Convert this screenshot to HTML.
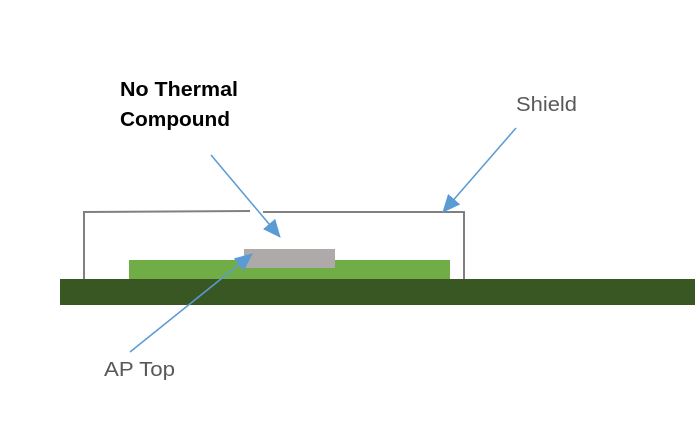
<!DOCTYPE html>
<html><head><style>
body{margin:0;width:695px;height:432px;background:#fff;overflow:hidden;font-family:"Liberation Sans",sans-serif;}
</style></head><body>
<svg width="695" height="432" xmlns="http://www.w3.org/2000/svg">
<defs>
<marker id="b" markerWidth="18" markerHeight="16" refX="17" refY="8" orient="auto" markerUnits="userSpaceOnUse"><path d="M0,0 L18,8 L0,16 z" fill="#5b9bd5"/></marker></defs>
<rect x="60" y="279" width="635" height="26" fill="#385723"/>
<rect x="129" y="260" width="321" height="19" fill="#70ad47"/>
<rect x="244" y="249" width="91" height="19" fill="#aeaaaa"/>
<path d="M84,279 L84,212 L250,211 M263,212 L464,212 L464,279" fill="none" stroke="#808080" stroke-width="2"/>
<line x1="211" y1="155" x2="280" y2="237" stroke="#5b9bd5" stroke-width="1.5" marker-end="url(#b)"/>
<line x1="516" y1="128" x2="443" y2="212" stroke="#5b9bd5" stroke-width="1.5" marker-end="url(#b)"/>
<line x1="130" y1="352" x2="252" y2="254" stroke="#5b9bd5" stroke-width="1.5" marker-end="url(#b)"/>
<text x="120" y="96" font-size="20" font-weight="bold" fill="#000" textLength="118" lengthAdjust="spacingAndGlyphs">No Thermal</text>
<text x="120" y="126" font-size="20" font-weight="bold" fill="#000" textLength="110" lengthAdjust="spacingAndGlyphs">Compound</text>
<text x="516" y="111" font-size="20" fill="#595959" textLength="61" lengthAdjust="spacingAndGlyphs">Shield</text>
<text x="104" y="376" font-size="20" fill="#595959" textLength="71" lengthAdjust="spacingAndGlyphs">AP Top</text>
</svg>
</body></html>
